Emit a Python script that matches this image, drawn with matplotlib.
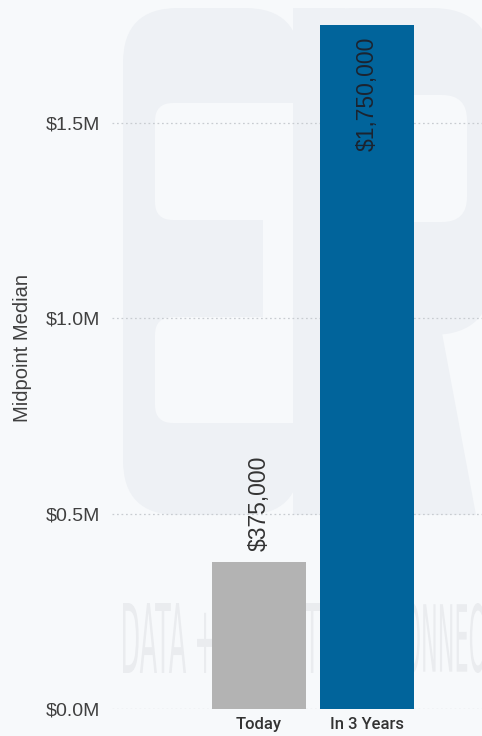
import matplotlib
matplotlib.use("Agg")
import matplotlib.pyplot as plt
from matplotlib.textpath import TextPath
from matplotlib.patches import PathPatch, FancyBboxPatch, Rectangle, Polygon
from matplotlib.font_manager import FontProperties
from matplotlib.transforms import Affine2D
from matplotlib.ticker import FixedLocator, FuncFormatter

# ---- data ----
categories = ["Today", "In 3 Years"]
values = [375000, 1750000]
bar_colors = ["#b3b3b3", "#01649b"]
y_ticks = [0, 500000, 1000000, 1500000]
y_label = "Midpoint Median"

W, H, DPI = 482, 736, 100
BG = "#f7f9fb"
MARK = "#eef1f5"
TEXT_MARK = "#eaecef"

fig = plt.figure(figsize=(W / DPI, H / DPI), dpi=DPI, facecolor=BG)

# background layer in pixel coordinates (y grows downward)
bg = fig.add_axes([0, 0, 1, 1], zorder=0)
bg.set_xlim(0, W)
bg.set_ylim(H, 0)
bg.axis("off")
bg.set_facecolor(BG)


def rbox(x0, y0, x1, y1, r, color):
    bg.add_patch(FancyBboxPatch((x0, y0), x1 - x0, y1 - y0,
                                boxstyle=f"round,pad=0,rounding_size={r}",
                                facecolor=color, edgecolor="none", lw=0))


def rect(x0, y0, x1, y1, color):
    bg.add_patch(Rectangle((x0, y0), x1 - x0, y1 - y0, facecolor=color,
                           edgecolor="none", lw=0))


# large "E" of the logo watermark
rbox(123, 8, 300, 515, 55, MARK)
rbox(155, 103, 340, 220, 18, BG)
rbox(155, 317, 340, 423, 18, BG)
rect(263, 215, 300, 322, BG)
# large "R" of the logo watermark
rbox(293, 8, 492, 335, 60, MARK)
rect(293, 8, 345, 515, MARK)
rbox(345, 95, 467, 222, 25, BG)
bg.add_patch(Polygon([(350, 290), (434, 290), (476, 515), (395, 515)],
                     closed=True, facecolor=MARK, edgecolor="none", lw=0))


def fitted_text(s, x0, x1, ytop, ybot, prop, color):
    tp = TextPath((0, 0), s, size=1, prop=prop)
    bb = tp.get_extents()
    sx = (x1 - x0) / bb.width
    sy = (ybot - ytop) / bb.height
    tr = Affine2D().translate(-bb.x0, -bb.y0).scale(sx, -sy).translate(x0, ybot)
    bg.add_patch(PathPatch(tr.transform_path(tp), facecolor=color,
                           edgecolor="none", lw=0))


tag_font = FontProperties(family="DejaVu Sans")
fitted_text("DATA + TALENT", 123, 320, 603, 673, tag_font, TEXT_MARK)
fitted_text("CONNECT", 389, 498, 603, 673, tag_font, TEXT_MARK)

# ---- main chart ----
ax = fig.add_axes([112 / W, 27 / H, 370 / W, 709 / H], zorder=1)
ax.set_facecolor("none")
x = list(range(len(categories)))
ax.bar(x, values, width=0.87, color=bar_colors, zorder=3)

ax.set_xlim(-1.361, 2.065)
ax.set_ylim(0, 1.8133e6)

for s in ax.spines.values():
    s.set_visible(False)

ax.yaxis.set_major_locator(FixedLocator(y_ticks))
ax.yaxis.set_major_formatter(FuncFormatter(lambda v, p: f"${v / 1e6:.1f}M"))
ax.grid(axis="y", color="#c8ccd1", linestyle=(0, (1.4, 2.2)), linewidth=0.9, zorder=0)
ax.set_axisbelow(True)
ax.tick_params(axis="y", length=0, pad=8.6, labelsize=14, labelcolor="#404040")
for t in ax.get_yticklabels():
    t.set_fontfamily("Liberation Sans")

ax.set_xticks(x)
ax.set_xticklabels(categories, fontfamily="Roboto", fontweight="medium",
                   fontsize=12, color="#333333")
ax.tick_params(axis="x", length=0, pad=5.5)

fig.text(23 / W, 1 - 348 / H, y_label, rotation=90, ha="center", va="center",
         fontsize=14.5, fontfamily="Liberation Sans", color="#404040")

# value labels: inside the tall bar, above the short one
for i, v in enumerate(values):
    label = f"${v:,.0f}"
    if v > 1e6:
        ax.annotate(label, xy=(i, v), xytext=(0, -8.6), textcoords="offset points",
                    rotation=90, ha="center", va="top", fontsize=16.5,
                    fontfamily="Liberation Sans", color="#1c2430", zorder=4)
    else:
        ax.annotate(label, xy=(i, v), xytext=(0, 8), textcoords="offset points",
                    rotation=90, ha="center", va="bottom", fontsize=16.5,
                    fontfamily="Liberation Sans", color="#333333", zorder=4)

fig.savefig("out.png", dpi=DPI, facecolor=BG)
